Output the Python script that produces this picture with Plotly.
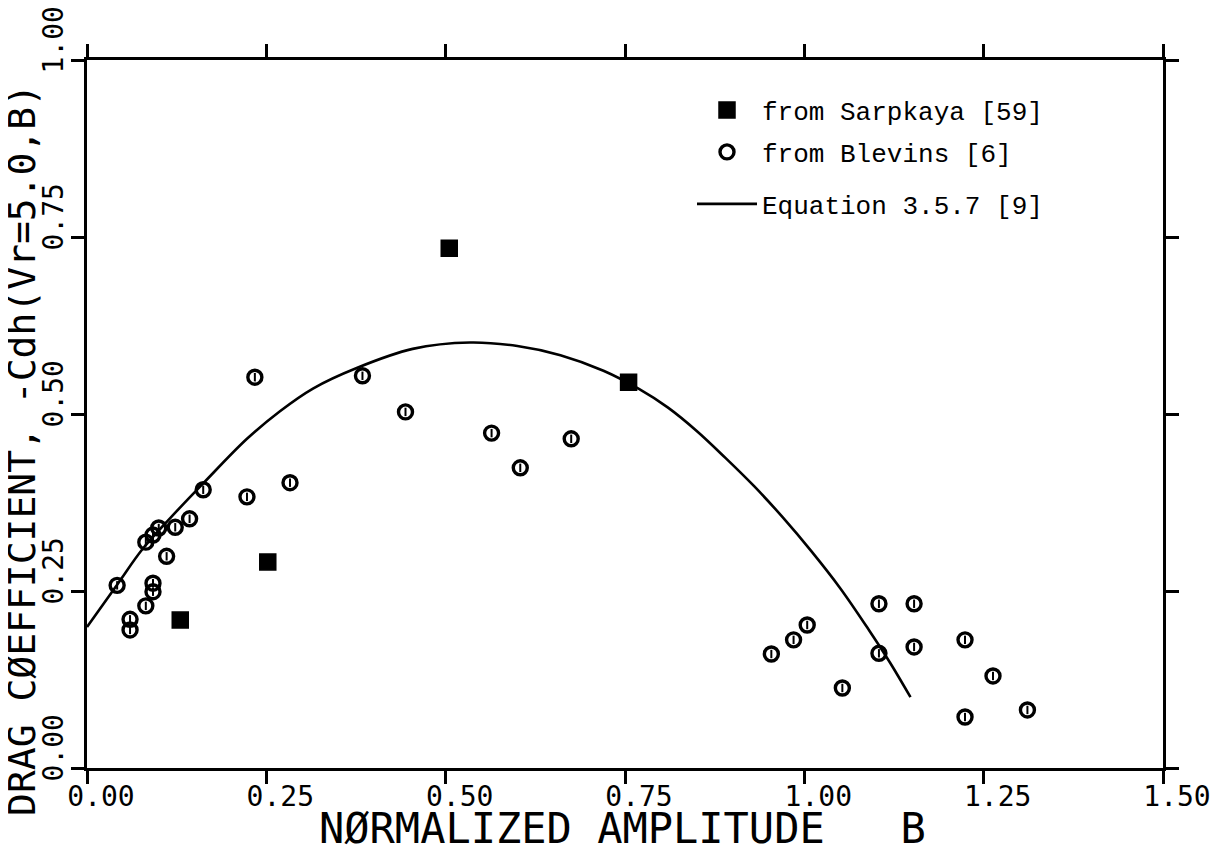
import plotly.graph_objects as go

# ---- data ----
sarpkaya_x = [0.130, 0.252, 0.505, 0.755]
sarpkaya_y = [0.209, 0.291, 0.734, 0.545]

blevins_x = [0.042, 0.060, 0.060, 0.082, 0.092, 0.092, 0.111, 0.082, 0.092, 0.100,
             0.123, 0.143, 0.162, 0.223, 0.234, 0.283, 0.384, 0.444, 0.564, 0.604,
             0.675, 0.954, 0.985, 1.004, 1.053, 1.104, 1.104, 1.153, 1.153, 1.224,
             1.263, 1.224, 1.311]
blevins_y = [0.258, 0.210, 0.195, 0.229, 0.261, 0.249, 0.299, 0.319, 0.329, 0.339,
             0.340, 0.352, 0.393, 0.383, 0.552, 0.403, 0.554, 0.503, 0.473, 0.424,
             0.465, 0.161, 0.181, 0.202, 0.113, 0.232, 0.162, 0.232, 0.171, 0.181,
             0.130, 0.072, 0.082]

curve_x = [0.000, 0.042, 0.078, 0.116, 0.162, 0.223, 0.269, 0.315, 0.376, 0.454,
           0.534, 0.600, 0.660, 0.720, 0.770, 0.810, 0.850, 0.890, 0.930, 0.970,
           1.010, 1.050, 1.090, 1.120, 1.148]
curve_y = [0.199, 0.259, 0.310, 0.353, 0.402, 0.465, 0.504, 0.536, 0.565, 0.592,
           0.601, 0.596, 0.583, 0.561, 0.535, 0.509, 0.476, 0.438, 0.398, 0.354,
           0.306, 0.254, 0.195, 0.148, 0.100]

x_ticks = [0.00, 0.25, 0.50, 0.75, 1.00, 1.25, 1.50]
x_ticklabels = ["0.00", "0.25", "0.50", "0.75", "1.00", "1.25", "1.50"]
y_ticks = [0.00, 0.25, 0.50, 0.75, 1.00]
y_ticklabels = ["0.00", "0.25", "0.50", "0.75", "1.00"]

x_title = "NØRMALIZED AMPLITUDE   B"
y_title = "DRAG CØEFFICIENT, -Cdh(Vr=5.0,B)"
names = ["from Sarpkaya [59]", "from Blevins [6]", "Equation 3.5.7 [9]"]

# ---- layout geometry (window pixels; page body has an 8px margin) ----
OFF = 8
W, H = 1225 - OFF, 851 - OFF
PLOT_L, PLOT_R, PLOT_T, PLOT_B = 87, 1163, 60, 768   # plot area in window pixels
L = PLOT_L - OFF
R = W - (PLOT_R - OFF)
T = PLOT_T - OFF
B = H - (PLOT_B - OFF)
PW, PH = W - L - R, H - T - B


def px(xp):
    return (xp - OFF - L) / PW


def py(yp):
    return (H - B - (yp - OFF)) / PH


PLOT_FONT = "DejaVu Sans Mono"
LEG_FONT = "Liberation Mono"

fig = go.Figure()

fig.add_trace(go.Scatter(
    x=curve_x, y=curve_y, mode="lines", name=names[2],
    line=dict(color="black", width=2.6, shape="spline", smoothing=1.0),
    legend="legend3",
))
fig.add_trace(go.Scatter(
    x=blevins_x, y=blevins_y, mode="markers", name=names[1],
    marker=dict(symbol="circle-open", size=14, color="black",
                line=dict(color="black", width=3.4)),
    legend="legend2",
))
fig.add_trace(go.Scatter(
    x=blevins_x, y=blevins_y, mode="markers", showlegend=False, hoverinfo="skip",
    marker=dict(symbol="line-ns", size=6, color="black",
                line=dict(color="black", width=2)),
))
fig.add_trace(go.Scatter(
    x=sarpkaya_x, y=sarpkaya_y, mode="markers", name=names[0],
    marker=dict(symbol="square", size=16, color="black",
                line=dict(color="black", width=1.5)),
    legend="legend",
))

axis_common = dict(
    showline=True, linecolor="black", linewidth=3,
    mirror="ticks", ticks="outside", ticklen=13, tickwidth=2.5, tickcolor="black",
    showgrid=False, zeroline=False, ticklabeloverflow="allow",
    tickfont=dict(family=PLOT_FONT, size=28, color="black"),
)

fig.update_xaxes(range=[0, 1.5], tickvals=x_ticks, ticktext=x_ticklabels,
                 ticklabelshift=14, ticklabelstandoff=-12, **axis_common)
fig.update_yaxes(range=[0, 1.0], tickvals=y_ticks, ticktext=y_ticklabels,
                 tickangle=-90, ticklabelshift=-16, ticklabelstandoff=-3, **axis_common)

leg_common = dict(
    font=dict(family=LEG_FONT, size=26, color="black"),
    bgcolor="rgba(0,0,0,0)", borderwidth=0, itemwidth=60,
    xanchor="left", yanchor="middle", x=px(692),
)

fig.update_layout(
    width=W, height=H,
    margin=dict(l=L, r=R, t=T, b=B, autoexpand=False),
    paper_bgcolor="white", plot_bgcolor="white",
    showlegend=True,
    legend=dict(y=py(110), **leg_common),
    legend2=dict(y=py(152), **leg_common),
    legend3=dict(y=py(204), **leg_common),
    annotations=[
        dict(text=x_title, xref="paper", yref="paper", x=px(622), y=py(828),
             xanchor="center", yanchor="middle", showarrow=False,
             font=dict(family=PLOT_FONT, size=42, color="black")),
        dict(text=y_title, xref="paper", yref="paper", x=px(22), y=py(450),
             xanchor="center", yanchor="middle", showarrow=False, textangle=-90,
             font=dict(family=PLOT_FONT, size=38, color="black")),
    ],
)

fig.write_html("out.html")
